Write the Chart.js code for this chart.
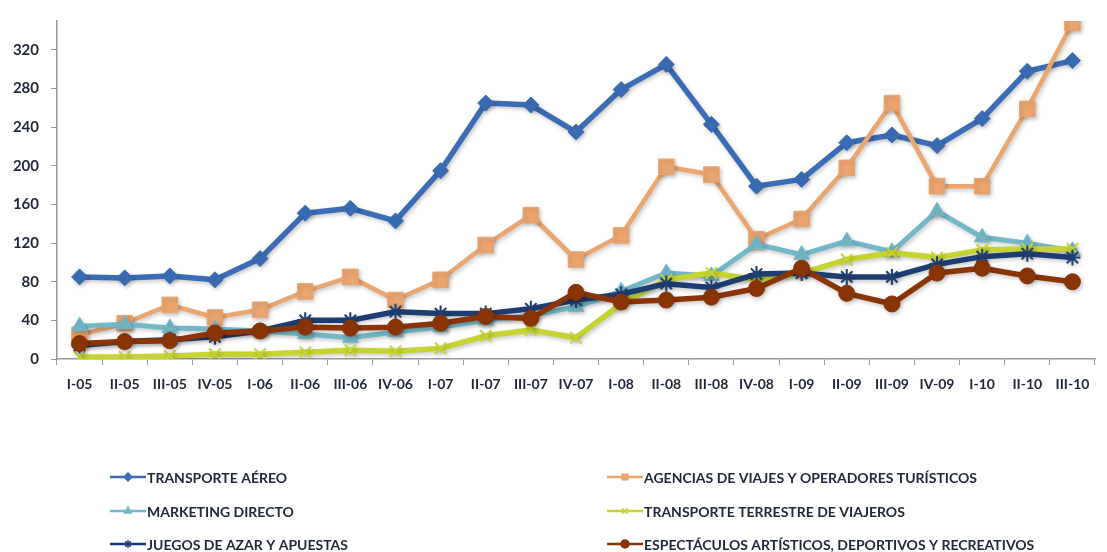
<!DOCTYPE html>
<html>
<head>
<meta charset="utf-8">
<script src="https://cdn.jsdelivr.net/npm/chart.js@4/dist/chart.umd.min.js"></script>
<style>
  html, body { margin: 0; padding: 0; background: #fff; }
  #wrap { width: 1107px; height: 552px; }
</style>
</head>
<body>
<div id="wrap"><canvas id="myChart"></canvas></div>
<script>
const quarters = ['I-05', 'II-05', 'III-05', 'IV-05', 'I-06', 'II-06', 'III-06', 'IV-06',
    'I-07', 'II-07', 'III-07', 'IV-07', 'I-08', 'II-08', 'III-08', 'IV-08',
    'I-09', 'II-09', 'III-09', 'IV-09', 'I-10', 'II-10', 'III-10'];

const transporteAereo = [85, 84, 86, 82, 104, 151, 156, 143, 195, 265, 263, 235, 279, 305, 243, 179, 186, 224, 232, 221, 249, 298, 309];
const agenciasViajes = [25, 37, 56, 43, 51, 70, 85, 61, 82, 118, 149, 103, 128, 199, 191, 124, 145, 198, 265, 179, 179, 259, 348];
const marketingDirecto = [34, 36, 32, 31, 29, 26, 22, 28, 33, 40, 45, 54, 70, 89, 86, 119, 108, 122, 111, 153, 126, 120, 112];
const transporteTerrestre = [2, 2, 3, 5, 5, 7, 9, 8, 11, 24, 30, 22, 57, 82, 89, 82, 89, 103, 110, 105, 113, 114, 114];
const juegosAzar = [14, 18, 20, 23, 29, 40, 40, 49, 47, 47, 52, 61, 67, 78, 74, 88, 89, 85, 85, 98, 106, 109, 105];
const espectaculos = [16, 18, 19, 27, 29, 33, 32, 33, 37, 44, 42, 69, 59, 61, 64, 73, 94, 68, 57, 89, 94, 86, 80];

const yTicks = [0, 40, 80, 120, 160, 200, 240, 280, 320];

const tickFont = { family: 'Lato', size: 14, weight: 'bold' };
const textColor = '#222a3a';

function serie(label, data, color, style, radius, width, order) {
    return {
        label: label,
        data: data,
        borderColor: color,
        backgroundColor: color,
        pointBackgroundColor: color,
        pointBorderColor: color,
        pointStyle: style,
        pointRadius: radius,
        pointBorderWidth: (style === 'crossRot' || style === 'star') ? 2 : 1,
        borderWidth: width,
        borderJoinStyle: 'round',
        tension: 0,
        order: order
    };
}

// leyenda en dos columnas, como en la hoja original
const legendGrid = {
    id: 'legendGrid',
    afterDraw(chart) {
        const ctx = chart.ctx;
        const cols = [110, 607];
        const rows = [477, 511, 544];
        chart.data.datasets.forEach((ds, i) => {
            const x = cols[i % 2];
            const y = rows[Math.floor(i / 2)];
            ctx.save();
            ctx.strokeStyle = ds.borderColor;
            ctx.fillStyle = ds.borderColor;
            ctx.lineWidth = 2.5;
            ctx.beginPath();
            ctx.moveTo(x, y);
            ctx.lineTo(x + 36, y);
            ctx.stroke();
            ctx.lineWidth = 1.5;
            Chart.helpers.drawPoint(ctx, { pointStyle: ds.pointStyle, radius: 4, rotation: 0, borderWidth: 1.5 }, x + 18, y);
            ctx.fillStyle = textColor;
            ctx.font = 'bold 14px Lato';
            ctx.textBaseline = 'middle';
            ctx.fillText(ds.label, x + 37, y + 1);
            ctx.restore();
        });
    }
};

// sombra suave bajo las líneas
const lineShadow = {
    id: 'lineShadow',
    beforeDatasetsDraw(chart) {
        const ctx = chart.ctx;
        ctx.save();
        ctx.shadowColor = 'rgba(0,0,0,0.22)';
        ctx.shadowBlur = 4;
        ctx.shadowOffsetX = 1.5;
        ctx.shadowOffsetY = 2;
    },
    afterDatasetsDraw(chart) {
        chart.ctx.restore();
    }
};

const ctx = document.getElementById('myChart');

new Chart(ctx, {
    type: 'line',
    data: {
        labels: quarters,
        datasets: [
            serie('TRANSPORTE AÉREO', transporteAereo, '#3a6db5', 'rectRot', 8, 5.5, 6),
            serie('AGENCIAS DE VIAJES Y OPERADORES TURÍSTICOS', agenciasViajes, '#eba56f', 'rect', 11, 4.5, 5),
            serie('MARKETING DIRECTO', marketingDirecto, '#72b8c9', 'triangle', 9, 5, 4),
            serie('TRANSPORTE TERRESTRE DE VIAJEROS', transporteTerrestre, '#c5d431', 'crossRot', 8, 5.5, 3),
            serie('JUEGOS DE AZAR Y APUESTAS', juegosAzar, '#1d3e72', 'star', 8, 5.5, 2),
            serie('ESPECTÁCULOS ARTÍSTICOS, DEPORTIVOS Y RECREATIVOS', espectaculos, '#8b3506', 'circle', 8, 5.5, 1)
        ]
    },
    options: {
        responsive: true,
        maintainAspectRatio: false,
        animation: false,
        layout: {
            padding: { top: 12, left: 0, right: 4, bottom: 148 }
        },
        scales: {
            x: {
                type: 'category',
                offset: true,
                grid: {
                    offset: true,
                    drawOnChartArea: false,
                    drawTicks: true,
                    tickLength: 6,
                    color: '#9a9a9a'
                },
                border: { color: '#9a9a9a', width: 1.5 },
                ticks: {
                    color: textColor,
                    font: tickFont,
                    padding: 11,
                    maxRotation: 0,
                    autoSkip: false
                },
                afterFit: (s) => { s.height = 45; }
            },
            y: {
                min: 0,
                max: 350,
                grid: {
                    drawOnChartArea: false,
                    drawTicks: true,
                    tickLength: 6,
                    color: '#9a9a9a'
                },
                border: { color: '#9a9a9a', width: 1.5 },
                ticks: {
                    color: textColor,
                    font: { family: 'Lato', size: 15, weight: 'bold' },
                    padding: 12
                },
                afterBuildTicks: (s) => { s.ticks = yTicks.map(v => ({ value: v })); },
                afterFit: (s) => { s.width = 57; }
            }
        },
        plugins: {
            legend: { display: false },
            tooltip: { enabled: false }
        }
    },
    plugins: [lineShadow, legendGrid]
});
</script>
</body>
</html>
